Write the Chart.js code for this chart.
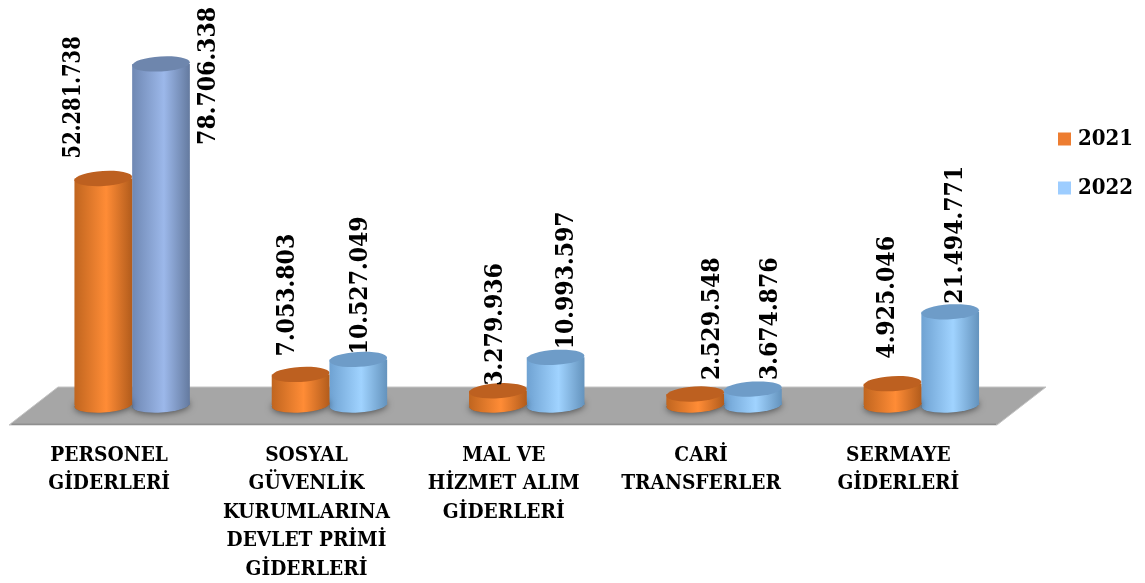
<!DOCTYPE html>
<html><head><meta charset="utf-8">
<style>html,body{margin:0;padding:0;background:#fff}#w{width:1145px;height:583px}</style>
<script src="https://cdn.jsdelivr.net/npm/chart.js@4/dist/chart.umd.js"></script>
</head><body><div id="w"><canvas id="c" width="1145" height="583"></canvas></div>
<script>
const categories = [
  ["PERSONEL","GİDERLERİ"],
  ["SOSYAL","GÜVENLİK","KURUMLARINA","DEVLET PRİMİ","GİDERLERİ"],
  ["MAL VE","HİZMET ALIM","GİDERLERİ"],
  ["CARİ","TRANSFERLER"],
  ["SERMAYE","GİDERLERİ"]
];
const values2021 = [52281738, 7053803, 3279936, 2529548, 4925046];
const values2022 = [78706338, 10527049, 10993597, 3674876, 21494771];

const FONT = '"DejaVu Serif Condensed","DejaVu Serif",serif';
const barPct = 0.585;
const RY = 7.5, TILT = -0.06;
const looks = {
  orange: {edgeL:'#c0651f', mid:'#ff8c36', edgeR:'#b25c1c', cap:'#bd6020'},
  peri:   {edgeL:'#6f88b3', mid:'#9cb8ea', edgeR:'#647a9f', cap:'#6e86ad'},
  sky:    {edgeL:'#6fa2d2', mid:'#a0d3ff', edgeR:'#6493bd', cap:'#6e9cc8'}
};
const looks2021 = ['orange','orange','orange','orange','orange'];
const looks2022 = ['peri','sky','sky','sky','sky'];
const lookSets = [looks2021, looks2022];
// label placement relative to each bar top: [dx, dy of the text's lower end, text squeeze]
const labelShift = [
  [[-29.5,-20,0.885],[-12.5,-18,1],[-2.5,-5,1],[17.5,-14,1],[-4.5,-25,1]],
  [[47.5,81,1],[2.5,-5,1],[11.5,-8,1],[17.5,-9,1],[5.5,-8,1]]
];
const dotted = v => String(v).replace(/\B(?=(\d{3})+$)/g,'.');

function addStops(g,L){
  g.addColorStop(0,L.edgeL);
  g.addColorStop(0.55,L.mid);
  g.addColorStop(1,L.edgeR);
  return g;
}
function barFill(ctx){
  if(ctx.type!=='data') return '#999';
  const ch=ctx.chart, sx=ch.scales.x, ds=ctx.datasetIndex, i=ctx.dataIndex;
  const L=looks[lookSets[ds][i]];
  const cw=(sx.right-sx.left)/categories.length, w=cw*barPct/2;
  const c=sx.getPixelForTick(i)+(ds===0?-w/2:w/2);
  return addStops(ch.ctx.createLinearGradient(c-w/2,0,c+w/2,0),L);
}
function ellipse(c,x,y,rx,ry,a0,a1){c.beginPath();c.ellipse(x,y,rx,ry,TILT,a0,a1);}

const floorPlugin = {
  id:'floor',
  beforeDatasetsDraw(ch){
    const c=ch.ctx,a=ch.chartArea,y0=ch.scales.y.getPixelForValue(0);
    c.save();
    const t=y0-18,b=y0+20;
    c.fillStyle='#a6a6a6';
    c.strokeStyle='#c4c4c4'; c.lineWidth=1;
    c.beginPath();
    c.moveTo(a.left+24.5,t);c.lineTo(a.right+26,t);c.lineTo(a.right-23,b);c.lineTo(a.left-24.5,b);c.closePath();
    c.fill();c.stroke();
    c.fillStyle='#8f8f8f';
    c.fillRect(a.left-22,b-1.5,a.right-a.left-2,1.5);
    c.restore();
  }
};
const cylPlugin = {
  id:'cyl',
  beforeDatasetDraw(ch,args){
    const c=ch.ctx,meta=ch.getDatasetMeta(args.index);
    meta.data.forEach((el,i)=>{
      const L=looks[lookSets[args.index][i]],rx=el.width/2;
      c.save();
      c.shadowColor='rgba(0,0,0,0.55)';c.shadowBlur=7;c.shadowOffsetY=1;
      ellipse(c,el.x,el.base,rx,RY,0,Math.PI*2);c.fillStyle='#666';c.fill();
      c.restore();
      c.save();
      ellipse(c,el.x,el.base,rx,RY,0,Math.PI*2);
      c.fillStyle=addStops(c.createLinearGradient(el.x-rx,0,el.x+rx,0),L);c.fill();
      c.restore();
    });
  },
  afterDatasetDraw(ch,args){
    const c=ch.ctx,meta=ch.getDatasetMeta(args.index);
    meta.data.forEach((el,i)=>{
      const L=looks[lookSets[args.index][i]],rx=el.width/2;
      c.save();
      ellipse(c,el.x,el.y,rx,RY,0,Math.PI*2);c.fillStyle=L.cap;c.fill();
      c.restore();
    });
  },
  afterDatasetsDraw(ch){
    const c=ch.ctx;
    c.save();
    c.fillStyle='#000';c.font='bold 24.5px '+FONT;c.textAlign='left';c.textBaseline='middle';
    ch.data.datasets.forEach((ds,d)=>{
      ch.getDatasetMeta(d).data.forEach((el,i)=>{
        const s=labelShift[d][i];
        c.save();c.translate(el.x+s[0],el.y+s[1]);c.rotate(-Math.PI/2);c.scale(s[2],1);
        c.fillText(dotted(ds.data[i]),0,0);c.restore();
      });
    });
    c.restore();
  },
  afterLayout(ch){
    const l=ch.legend;if(!l)return;
    const w=l.width,h=l.height;
    l.left=1035;l.right=1035+w;l.top=101;l.bottom=101+h;
  }
};

new Chart(document.getElementById('c'),{
  type:'bar',
  data:{labels:categories,datasets:[
    {label:'2021',data:values2021,backgroundColor:barFill,barPercentage:1,categoryPercentage:barPct},
    {label:'2022',data:values2022,backgroundColor:barFill,barPercentage:1,categoryPercentage:barPct}
  ]},
  plugins:[floorPlugin,cylPlugin],
  options:{
    responsive:false,animation:false,events:[],
    layout:{padding:{left:33.5,right:125,top:15,bottom:0}},
    plugins:{
      tooltip:{enabled:false},
      legend:{position:'chartArea',align:'start',
        labels:{boxWidth:5,boxHeight:5,padding:27,color:'#000',font:{family:FONT,size:22,weight:'bold'},
          generateLabels:()=>[
            {text:'2021',fillStyle:'#ed7d31',strokeStyle:'#ed7d31',lineWidth:8,datasetIndex:0},
            {text:'2022',fillStyle:'#9dcdff',strokeStyle:'#9dcdff',lineWidth:8,datasetIndex:1}
          ]}}
    },
    scales:{
      x:{grid:{display:false},border:{display:false},
        afterFit(s){s.height=178;},
        ticks:{color:'#000',autoSkip:false,maxRotation:0,minRotation:0,padding:28,labelOffset:-23,
          font:{family:FONT,size:20.7,weight:'bold',lineHeight:1.38}}},
      y:{display:false,min:0,max:90000000,grid:{display:false}}
    }
  }
});
</script></body></html>
